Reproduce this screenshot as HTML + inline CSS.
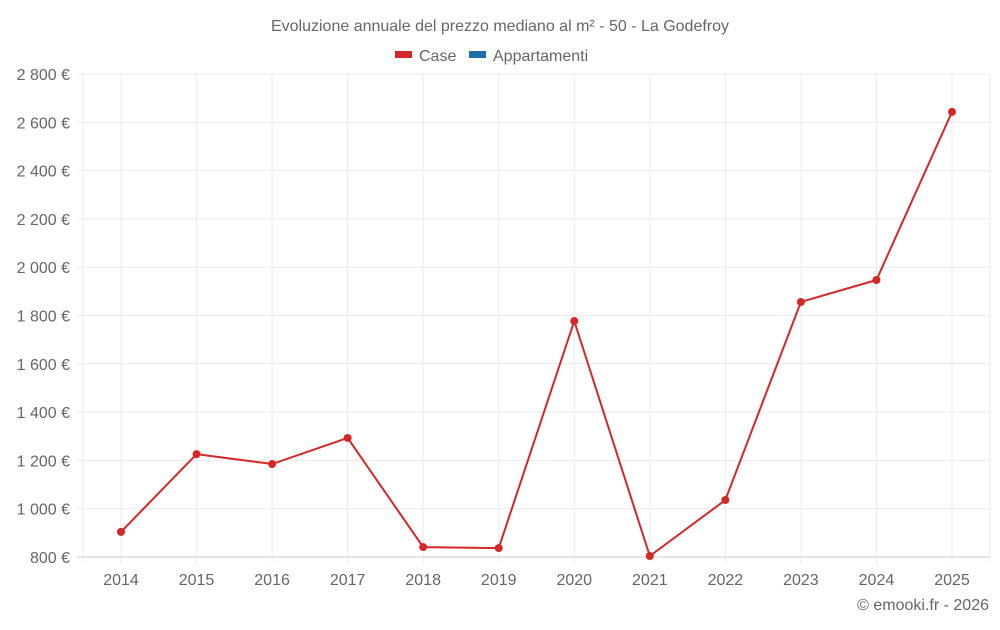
<!DOCTYPE html>
<html><head><meta charset="utf-8"><style>
body{margin:0;background:#fff;font-family:"Liberation Sans",sans-serif;}
svg text{font-family:"Liberation Sans",sans-serif;fill:#666;}
</style></head><body>
<svg id="chart" width="1000" height="625" viewBox="0 0 1000 625" xmlns="http://www.w3.org/2000/svg">
<text x="500" y="31" text-anchor="middle" font-size="16">Evoluzione annuale del prezzo mediano al m² - 50 - La Godefroy</text>
<g>
<g><rect x="395" y="51" width="17" height="7" fill="#d62728"/><text x="419" y="61" font-size="16" fill="#666">Case</text></g>
<g><rect x="469" y="51" width="17" height="7" fill="#1f6fa8"/><text x="493" y="61" font-size="16">Appartamenti</text></g>
</g>
<g id="grid"></g>
<g id="yaxis"></g>
<g id="xaxis"></g>
<g id="series"></g>
<text x="989" y="610" text-anchor="end" font-size="16">© emooki.fr - 2026</text>
</svg>
<script>
const years=["2014","2015","2016","2017","2018","2019","2020","2021","2022","2023","2024","2025"];
const caseValues=[904,1226,1185,1293,841,837,1777,804,1036,1856,1947,2643];
const yTicks=[800,1000,1200,1400,1600,1800,2000,2200,2400,2600,2800];
const NS="http://www.w3.org/2000/svg";
const L=83,R=990,T=74,B=557,yMin=800,yMax=2800;
const xs=i=>121+i*(952-121)/(years.length-1);
const ys=v=>B-(v-yMin)/(yMax-yMin)*(B-T);
function mk(tag,attrs,parent){const e=document.createElementNS(NS,tag);for(const k in attrs)e.setAttribute(k,attrs[k]);parent.appendChild(e);return e;}
const grid=document.getElementById('grid'),ya=document.getElementById('yaxis'),xa=document.getElementById('xaxis'),se=document.getElementById('series');
yTicks.forEach(v=>{
 const l=mk('line',{x1:L-6,x2:R,y1:ys(v),y2:ys(v),stroke:v===yMin?'#ccc':'#ebebeb'},grid);
 
 
 const t=mk('text',{x:70,y:ys(v)+6,'text-anchor':'end','font-size':16},ya);
 t.textContent=v.toLocaleString('fr-FR').replace(/\s/g,' ')+' €';
 
 
});
mk('line',{x1:L,x2:L,y1:T,y2:B+6,stroke:'#ebebeb'},grid);
years.forEach((y,i)=>{
 const l=mk('line',{x1:xs(i),x2:xs(i),y1:T,y2:B+6,stroke:'#ebebeb'},grid);
 
 
 const t=mk('text',{x:xs(i),y:585,'text-anchor':'middle','font-size':16},xa);
 t.textContent=y;
 
 
});
mk('line',{x1:R,x2:R,y1:T,y2:B+6,stroke:'#ebebeb'},grid);
const p=mk('polyline',{points:caseValues.map((v,i)=>xs(i)+','+ys(v)).join(' '),fill:'none',stroke:'#d62728','stroke-width':2},se);


caseValues.forEach((v,i)=>{
 const c=mk('circle',{cx:xs(i),cy:ys(v),r:4,fill:'#d62728'},se);
 
 
});
</script>
</body></html>
